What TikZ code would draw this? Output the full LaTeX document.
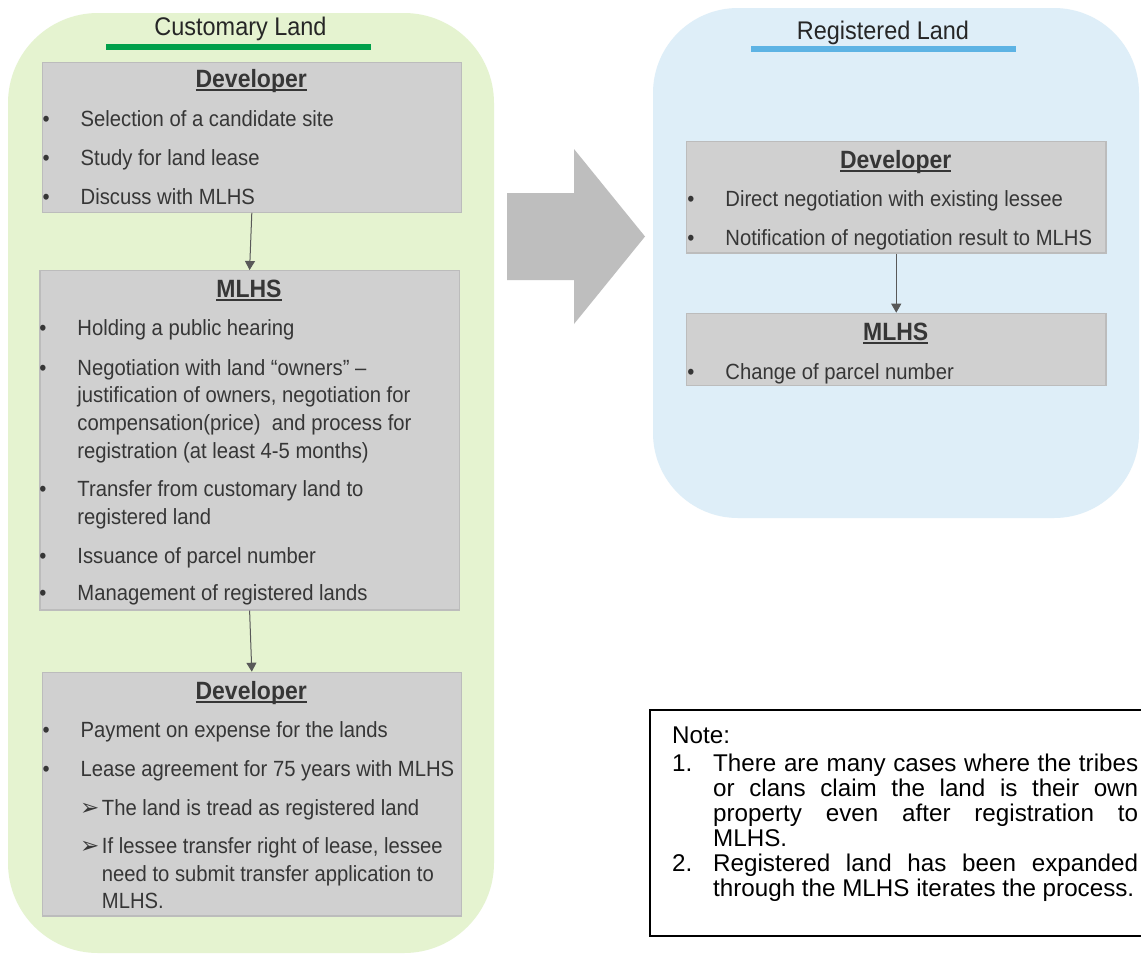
\documentclass[tikz,border=0pt]{standalone}
\usepackage{fontspec}
\setmainfont{Liberation Sans}
\newfontfamily\cfont[FakeStretch=0.92]{Liberation Sans}
\newfontfamily\dvfont{DejaVu Sans}
\usetikzlibrary{arrows.meta}
\definecolor{gpanel}{HTML}{E5F3D0}
\definecolor{bpanel}{HTML}{DEEEF8}
\definecolor{boxgray}{HTML}{D0D0D0}
\definecolor{boxline}{HTML}{BCBCBC}
\definecolor{bigarrow}{HTML}{BEBEBE}
\definecolor{gline}{HTML}{00A04A}
\definecolor{bline}{HTML}{5DB3E4}
\definecolor{txt}{HTML}{363636}
\definecolor{arrowc}{HTML}{595959}
\hbadness=10000
\tolerance=10000
\newsavebox\ulbox
\newcommand{\ulined}[1]{\sbox\ulbox{#1}\rlap{\rule[-3.5pt]{\wd\ulbox}{1.6pt}}\usebox\ulbox}
\newcommand{\bul}{\makebox[38pt][l]{•}}
\newcommand{\subb}{\makebox[21.7pt][l]{\dvfont\fontsize{23}{23}\selectfont ➢}}
\newcommand{\ml}[1]{\begin{tabular}[t]{@{}l@{}}#1\end{tabular}}
\newcommand{\notefont}{\fontsize{24.2}{25}\selectfont}
\tikzset{
  panelg/.style={fill=gpanel, rounded corners=90pt},
  panelb/.style={fill=bpanel, rounded corners=85pt},
  graybox/.style={draw=boxline, fill=boxgray, line width=1.2pt, rectangle, inner sep=0pt, anchor=north west},
  head/.style={font=\cfont\fontsize{25.5}{28}\selectfont, text=black!85, inner sep=0pt, anchor=base},
  boxtitle/.style={font=\cfont\bfseries\fontsize{25}{28}\selectfont, text=txt, inner sep=0pt, anchor=base},
  itm/.style={font=\cfont\fontsize{22}{27.8}\selectfont, text=txt, inner sep=0pt, anchor=base west},
  flow/.style={draw=arrowc, line width=1pt, -{Triangle[length=9pt,width=10pt]}},
  notetxt/.style={font=\notefont, text=black, inner sep=0pt, anchor=base west},
}
\begin{document}
\begin{tikzpicture}[x=1pt,y=-1pt]
\useasboundingbox (0,0) rectangle (1141,954);
\fill[white] (0,0) rectangle (1141,954);
% panels
\fill[panelg] (8,13) rectangle (494,953);
\fill[panelb] (653,8) rectangle (1139,518);
% headings
\node[head] (hg) at (240.5,35) {Customary Land};
\draw[gline, line width=6pt] (106,46.7) -- (371,46.7);
\node[head] (hb) at (883,39.3) {Registered Land};
\draw[bline, line width=6pt] (751,49.3) -- (1015.7,49.3);
% big arrow
\fill[bigarrow] (507,193) -- (574,193) -- (574,149) -- (645,236.5) -- (574,324) -- (574,280) -- (507,280) -- cycle;
% left boxes
\node[graybox, minimum width=419pt, minimum height=150pt] (b1) at (41.7,61.7) {};
\node[graybox, minimum width=419.4pt, minimum height=339.3pt] (b2) at (39.3,270) {};
\node[graybox, minimum width=419pt, minimum height=243.6pt] (b3) at (41.7,671.7) {};
% right boxes
\node[graybox, minimum width=419.3pt, minimum height=111.3pt] (r1) at (686,141) {};
\node[graybox, minimum width=419.3pt, minimum height=72.3pt] (r2) at (686,312.7) {};
% connectors
\draw[flow] (b1.south) -- (b2.north);
\draw[flow] (b2.south) -- (b3.north);
\draw[flow] (r1.south) -- (r2.north);
% box 1
\node[boxtitle] (t1) at (251.2,87.3) {\ulined{Developer}};
\node[itm] (b1a) at (42.5,126) {\bul Selection of a candidate site};
\node[itm] (b1b) at (42.5,165.7) {\bul Study for land lease};
\node[itm] (b1c) at (42.5,204) {\bul Discuss with MLHS};
% box 2
\node[boxtitle] (t2) at (249,297.3) {\ulined{MLHS}};
\node[itm] (b2a) at (39.2,335) {\bul Holding a public hearing};
\node[itm] (b2b) at (39.2,375) {\bul\ml{Negotiation with land “owners” –\\justification of owners, negotiation for\\compensation(price) \ and process for\\registration (at least 4-5 months)}};
\node[itm] (b2c) at (39.2,496.7) {\bul\ml{Transfer from customary land to\\registered land}};
\node[itm] (b2d) at (39.2,563.3) {\bul Issuance of parcel number};
\node[itm] (b2e) at (39.2,600.7) {\bul Management of registered lands};
% box 3
\node[boxtitle] (t3) at (251.2,699.3) {\ulined{Developer}};
\node[itm] (b3a) at (42.5,737.3) {\bul Payment on expense for the lands};
\node[itm] (b3b) at (42.5,776) {\bul Lease agreement for 75 years with MLHS};
\node[itm] (b3c) at (80,815) {\subb The land is tread as registered land};
\node[itm] (b3d) at (80,853.3) {\subb\ml{If lessee transfer right of lease, lessee\\need to submit transfer application to\\MLHS.}};
% right box 1
\node[boxtitle] (t4) at (895.7,168.3) {\ulined{Developer}};
\node[itm] (r1a) at (687.2,206) {\bul Direct negotiation with existing lessee};
\node[itm] (r1b) at (687.2,245.7) {\bul Notification of negotiation result to MLHS};
% right box 2
\node[boxtitle] (t5) at (895.7,340) {\ulined{MLHS}};
\node[itm] (r2a) at (687.2,379) {\bul Change of parcel number};
% note
\node[draw=black, line width=1.5pt, rectangle, minimum width=500pt, minimum height=226pt, anchor=north west, inner sep=0pt] (note) at (649,709) {};
\node[notetxt] (nh) at (672,743) {Note:};
\node[notetxt] (n1n) at (672,771.7) {1.};
\node[notetxt, text width=425pt, align=justify] (n1) at (713,771.7) {There are many cases where the tribes\linebreak or clans claim the land is their own\linebreak property even after registration to\linebreak MLHS.};
\node[notetxt] (n2n) at (672,871.7) {2.};
\node[notetxt, text width=425pt, align=justify] (n2) at (713,871.7) {Registered land has been expanded\linebreak through the MLHS iterates the process.};
\end{tikzpicture}
\end{document}
